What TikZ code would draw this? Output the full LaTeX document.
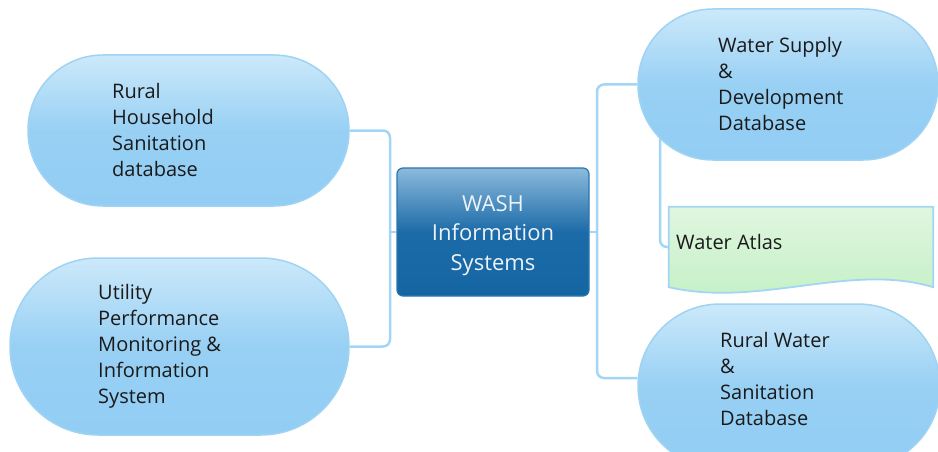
\documentclass[tikz,border=0pt]{standalone}
\usepackage{fontspec}
\setmainfont{Open Sans}
\usetikzlibrary{backgrounds}
\definecolor{conncol}{HTML}{A3D5F5}
\definecolor{pillborder}{HTML}{9FD3F3}
\definecolor{pilltop}{HTML}{CCE9FA}
\definecolor{pillmid}{HTML}{98D0F4}
\definecolor{pillbot}{HTML}{92CDF4}
\definecolor{ctop}{HTML}{8CBADC}
\definecolor{cmid}{HTML}{1C6BA8}
\definecolor{cbot}{HTML}{1466A2}
\definecolor{cborder}{HTML}{2A76B2}
\definecolor{gtop}{HTML}{E0F6E0}
\definecolor{gbot}{HTML}{C2F0C3}
\definecolor{textdark}{HTML}{1A1A1A}
\definecolor{textlight}{HTML}{EEF3F8}
\tikzset{
  conn/.style={draw=conncol, line width=2.5pt, rounded corners=7pt},
  pill/.style={draw=pillborder, line width=1.5pt, top color=pilltop, bottom color=pillbot, middle color=pillmid, inner sep=0pt},
  ptext/.style={font=\fontsize{20}{26}\selectfont, align=left, inner sep=0pt, text=textdark, anchor=west},
  centerbox/.style={draw=cborder, line width=1.2pt, top color=ctop, bottom color=cbot, middle color=cmid, rounded corners=6pt, minimum width=192pt, minimum height=128pt, inner sep=0pt},
  ctext/.style={inner sep=0pt, align=center, text=textlight, font=\fontsize{22}{29.5}\selectfont},
  atlasbox/.style={minimum width=264pt, minimum height=80pt, inner sep=0pt}
}
\begin{document}
\begin{tikzpicture}[x=1pt,y=-1pt]
\useasboundingbox (0,0) rectangle (938,452);
\clip (0,0) rectangle (938,452);
% central node
\node[centerbox] (c) at (493,232) {};
\node[ctext] (t0) at (493,235.5) {WASH\\Information\\Systems};
% pills
\node[pill, minimum width=321pt, minimum height=151pt, rounded corners=75pt] (p1) at (188.5,130.5) {};
\node[pill, minimum width=339pt, minimum height=177pt, rounded corners=88pt] (p2) at (179.5,346.5) {};
\node[pill, minimum width=300pt, minimum height=151pt, rounded corners=75pt] (p3) at (788,84.5) {};
\node[pill, minimum width=302pt, minimum height=164pt, rounded corners=82pt] (p4) at (789,386) {};
\node[ptext] (t1) at (112,130) {Rural\\Household\\Sanitation\\database};
\node[ptext] (t2) at (98,346.5) {Utility\\Performance\\Monitoring \&\\Information\\System};
\node[ptext] (t3) at (718,84.5) {Water Supply\\\&\\Development\\Database};
\node[ptext] (t4) at (720,379) {Rural Water\\\&\\Sanitation\\Database};
% water atlas
\node[atlasbox] (wa) at (801,247) {};
\path[draw=conncol, line width=1.8pt, top color=gtop, bottom color=gbot]
  (wa.north west) -- (wa.north east) -- (wa.south east)
  .. controls (850,262) and (760,308) .. (wa.south west) -- cycle;
\node[ptext] (t5) at (676,242) {Water Atlas};
% connectors
\coordinate (lj) at (390,232);
\coordinate (rj) at (597,232);
\coordinate (wj) at (660,120);
\begin{pgfonlayer}{background}
\draw[conn] (p1.east) -| (lj) |- (p2.east);
\draw[conn] (lj) -- (c.west);
\draw[conn] (p3.west) -| (rj) |- (p4.west |- 0,378);
\draw[conn] (c.east) -- (rj);
\draw[conn] (wj) |- (wa.west);
\end{pgfonlayer}
\end{tikzpicture}
\end{document}
